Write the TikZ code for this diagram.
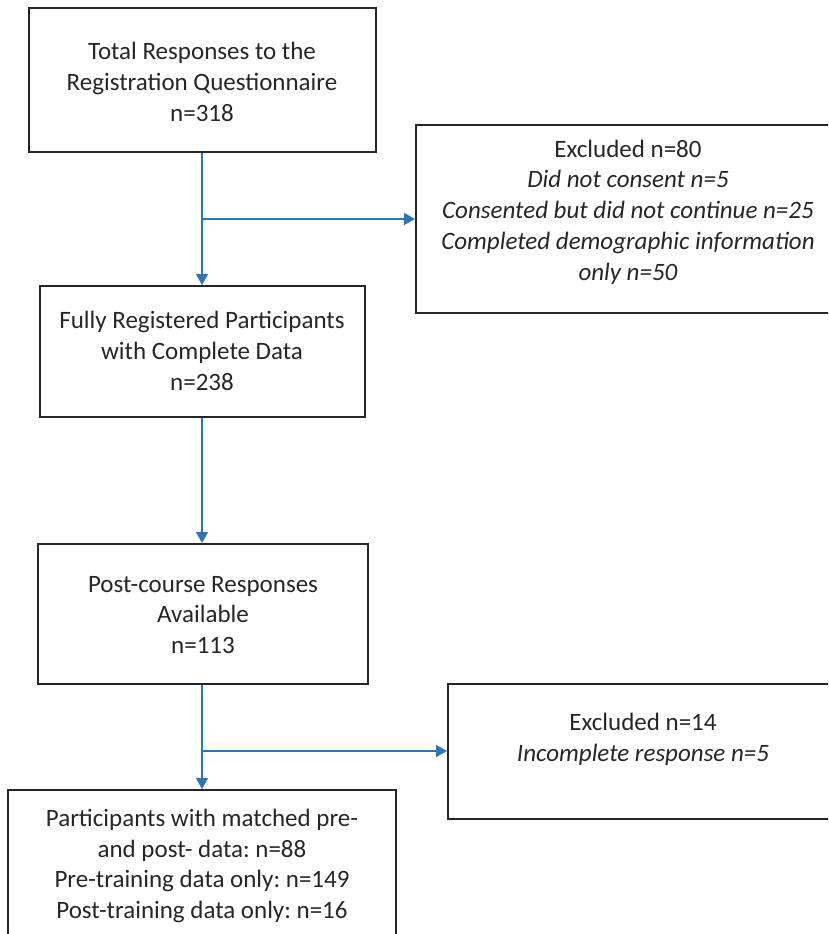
\documentclass[tikz,border=0pt]{standalone}
\usepackage{fontspec}
\setmainfont{Carlito}
\usetikzlibrary{arrows.meta}
\definecolor{arrowblue}{HTML}{2E75B6}
\definecolor{boxline}{HTML}{262626}
\frenchspacing
\begin{document}
\begin{tikzpicture}[x=1pt,y=-1pt,
  box/.style={draw=boxline, line width=2pt, rectangle, inner sep=0pt},
  txt/.style={align=center, font=\fontsize{25}{30.8}\selectfont, inner sep=0pt, text=black!85},
  conn/.style={draw=arrowblue, line width=1.5pt},
  arr/.style={conn, -{Triangle[length=11pt,width=12pt]}}]
\useasboundingbox (0,0) rectangle (828,934);
\clip (0,0) rectangle (828,934);
% boxes
\node[box, minimum width=347pt, minimum height=144pt] (b1) at (202,80) {};
\node[box, minimum width=424pt, minimum height=188pt] (b2) at (628,219) {};
\node[box, minimum width=325pt, minimum height=131pt] (b3) at (202.5,351.5) {};
\node[box, minimum width=330pt, minimum height=140pt] (b4) at (203,614) {};
\node[box, minimum width=390pt, minimum height=135pt] (b6) at (643,751.5) {};
\node[box, minimum width=388pt, minimum height=170pt] (b5) at (202,875) {};
% texts
\node[txt] (t1) at (202,82) {Total Responses to the\\Registration Questionnaire\\n=318};
\node[txt] (t2) at (628,212) {Excluded n=80\\\textit{Did not consent n=5}\\\textit{Consented but did not continue n=25}\\\textit{Completed demographic information}\\\textit{only n=50}};
\node[txt] (t3) at (202,351) {Fully Registered Participants\\with Complete Data\\n=238};
\node[txt] (t4) at (203,615) {Post-course Responses\\Available\\n=113};
\node[txt] (t6) at (643,739) {Excluded n=14\\\textit{Incomplete response n=5}};
\node[txt] (t5) at (202,866) {Participants with matched pre-\\and post- data: n=88\\Pre-training data only: n=149\\Post-training data only: n=16};
% connectors
\coordinate (j1) at (202,219);
\coordinate (j2) at (202,751);
\draw[arr] (b1.south -| j1) -- (b3.north -| j1);
\draw[arr] (j1) -- (j1 -| b2.west);
\draw[arr] (b3.south -| j1) -- (b4.north -| j1);
\draw[arr] (b4.south -| j2) -- (b5.north -| j2);
\draw[arr] (j2) -- (j2 -| b6.west);
\end{tikzpicture}
\end{document}
